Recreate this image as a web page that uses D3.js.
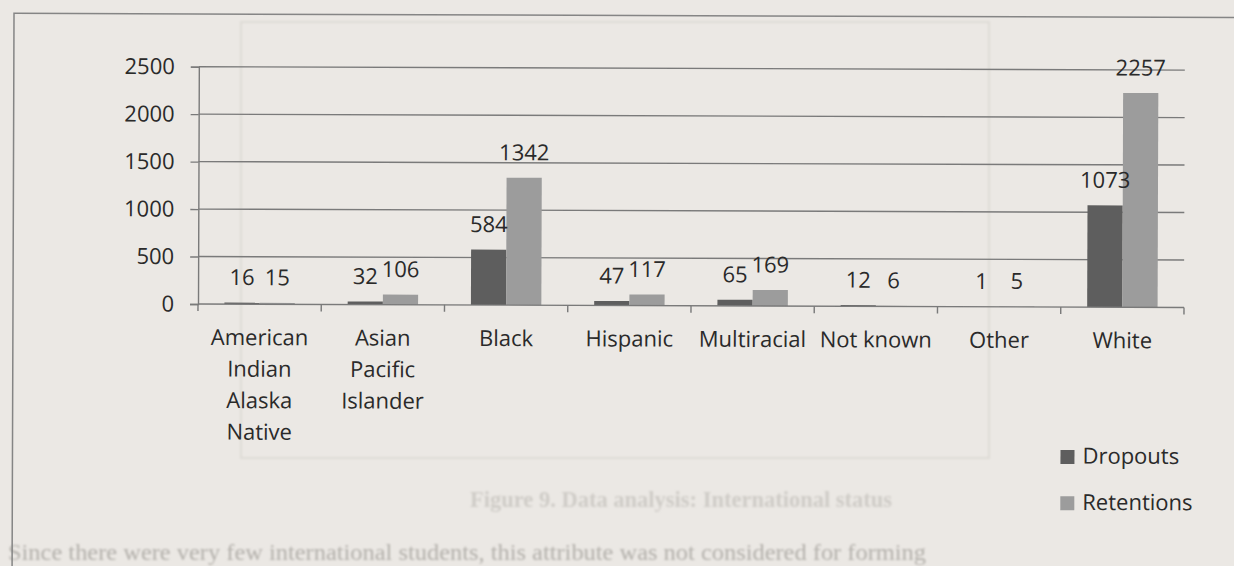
<!DOCTYPE html>
<html>
<head>
<meta charset="utf-8">
<script src="https://cdn.jsdelivr.net/npm/d3@7"></script>
<style>
  html, body { margin: 0; padding: 0; background: #ebe8e4; }
  svg { display: block; }
  text { font-family: "Open Sans", Lato, sans-serif; fill: #2a2a2a; }
</style>
</head>
<body>
<svg id="chart" width="1234" height="566">
  <defs>
    <filter id="soft" x="-5%" y="-50%" width="110%" height="200%">
      <feGaussianBlur stdDeviation="0.8"/>
    </filter>
  </defs>
</svg>
<script>
// Students by ethnicity: dropouts vs. retentions
const categories = ["American Indian Alaska Native", "Asian Pacific Islander", "Black", "Hispanic",
                    "Multiracial", "Not known", "Other", "White"];
const categoryLines = [["American", "Indian", "Alaska", "Native"], ["Asian", "Pacific", "Islander"],
                       ["Black"], ["Hispanic"], ["Multiracial"], ["Not known"], ["Other"], ["White"]];
const series = ["Dropouts", "Retentions"];
const dropouts = [16, 32, 584, 47, 65, 12, 1, 1073];
const retentions = [15, 106, 1342, 117, 169, 6, 5, 2257];
const yTicks = [0, 500, 1000, 1500, 2000, 2500];
const colors = ["#5e5e5e", "#9c9c9c"];

const caption = "Figure 9. Data analysis: International status";
const bodyText = "Since there were very few international students, this attribute was not considered for forming";

const svg = d3.select("#chart");
const FONT = "22px";

// faint text and frame from the page underneath
const under = svg.append("g").attr("filter", "url(#soft)");
under.append("rect").attr("x", 241).attr("y", 22).attr("width", 748).attr("height", 436)
  .attr("fill", "none").attr("stroke", "#dedbd6").attr("stroke-width", 2);
under.append("text").attr("x", 681).attr("y", 507).attr("text-anchor", "middle")
  .style("font-family", "'Liberation Serif', 'DejaVu Serif', serif").style("font-weight", "bold")
  .style("font-size", "22.5px").style("fill", "#cfccc7").text(caption);
under.append("text").attr("x", 8).attr("y", 560)
  .attr("textLength", 918).attr("lengthAdjust", "spacingAndGlyphs")
  .style("font-family", "'Liberation Serif', 'DejaVu Serif', serif")
  .style("font-size", "24px").style("fill", "#b3b0ab").text(bodyText);

const g = svg.append("g").attr("transform", "rotate(0.2, 198, 304)");

// outer chart frame
g.append("rect").attr("x", 13).attr("y", 14).attr("width", 1240).attr("height", 600)
  .attr("fill", "none").attr("stroke", "#858585").attr("stroke-width", 1.5);

const x = d3.scaleBand().domain(categories).range([198, 1184]).paddingInner(0).paddingOuter(0);
const bw = x.bandwidth();
const x1 = d3.scaleBand().domain(series).range([bw * 0.75 / 3.5, bw * 2.75 / 3.5]);
const y = d3.scaleLinear().domain([0, 2500]).range([304, 66.7]);

// horizontal gridlines
g.append("g").selectAll("line").data(yTicks.filter(t => t > 0)).join("line")
  .attr("x1", 198).attr("x2", 1184)
  .attr("y1", d => y(d)).attr("y2", d => y(d))
  .attr("stroke", "#7a7a7a").attr("stroke-width", 1.4);

// y axis
const yAxis = g.append("g").attr("transform", "translate(198,0)")
  .call(d3.axisLeft(y).tickValues(yTicks).tickSize(8).tickPadding(16).tickFormat(d3.format("d")));
yAxis.select(".domain").attr("stroke", "#7a7a7a").attr("stroke-width", 1.4);
yAxis.selectAll(".tick line").attr("stroke", "#7a7a7a").attr("stroke-width", 1.4);
yAxis.selectAll(".tick text").style("font-size", FONT).style("font-family", "'Open Sans', sans-serif")
  .attr("fill", "#2a2a2a");

// bars
const rows = categories.map((c, i) => ({ c, vals: [dropouts[i], retentions[i]] }));
const groups = g.append("g").selectAll("g").data(rows).join("g")
  .attr("transform", d => `translate(${x(d.c)},0)`);
groups.selectAll("rect").data(d => d.vals.map((v, k) => ({ s: series[k], v, k }))).join("rect")
  .attr("x", d => x1(d.s)).attr("width", x1.bandwidth())
  .attr("y", d => y(d.v)).attr("height", d => y(0) - y(d.v))
  .attr("fill", d => colors[d.k]);

// value labels
groups.selectAll("text.val").data(d => d.vals.map((v, k) => ({ s: series[k], v, k }))).join("text")
  .attr("class", "val")
  .attr("x", d => x1(d.s) + x1.bandwidth() / 2)
  .attr("y", d => y(d.v) - 17.5)
  .attr("text-anchor", "middle").style("font-size", FONT)
  .text(d => d.v);

// x axis baseline + boundary ticks
g.append("line").attr("x1", 198).attr("x2", 1184).attr("y1", y(0)).attr("y2", y(0))
  .attr("stroke", "#7a7a7a").attr("stroke-width", 1.4);
const bounds = categories.map(c => x(c)).concat([x.range()[1]]);
g.append("g").selectAll("line").data(bounds).join("line")
  .attr("x1", d => d).attr("x2", d => d).attr("y1", y(0)).attr("y2", y(0) + 7)
  .attr("stroke", "#7a7a7a").attr("stroke-width", 1.4);

// category labels (wrapped)
const catText = g.append("g").selectAll("text").data(categories).join("text")
  .attr("text-anchor", "middle").style("font-size", FONT)
  .attr("transform", d => `translate(${x(d) + bw / 2},345)`);
catText.selectAll("tspan").data((d, i) => categoryLines[i]).join("tspan")
  .attr("x", 0).attr("dy", (d, j) => j === 0 ? 0 : 31.5).text(d => d);

// legend
const legend = g.append("g").selectAll("g").data(series).join("g")
  .attr("transform", (d, i) => `translate(1061,${447 + i * 46.3})`);
legend.append("rect").attr("width", 14).attr("height", 14).attr("fill", (d, i) => colors[i]);
legend.append("text").attr("x", 22).attr("y", 13.5).style("font-size", FONT).text(d => d);
</script>
</body>
</html>
